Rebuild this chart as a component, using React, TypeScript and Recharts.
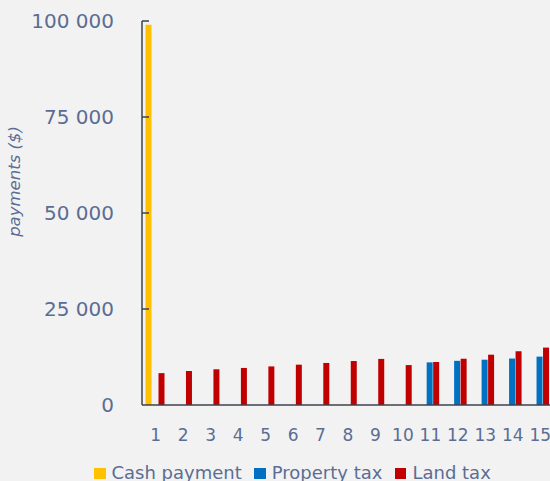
import React from 'react';
import { BarChart, Bar, XAxis, YAxis, Legend, Label } from 'recharts';

const years = ['1', '2', '3', '4', '5', '6', '7', '8', '9', '10', '11', '12', '13', '14', '15'];
const cashPayment = [99000, null, null, null, null, null, null, null, null, null, null, null, null, null, null];
const propertyTax = [null, null, null, null, null, null, null, null, null, null, 11100, 11500, 11800, 12100, 12600];
const landTax = [8300, 8850, 9300, 9650, 10050, 10500, 10950, 11450, 12000, 10400, 11200, 12050, 13100, 14000, 14950];
const yTicks = [0, 25000, 50000, 75000, 100000];

const seriesInfo = [
  { key: 'cash', name: 'Cash payment', color: '#FFC000' },
  { key: 'property', name: 'Property tax', color: '#0070C0' },
  { key: 'land', name: 'Land tax', color: '#C00000' },
];

const data = years.map((year, i) => ({
  year,
  cash: cashPayment[i],
  property: propertyTax[i],
  land: landTax[i],
}));

const textColor = '#5b6d92';
const axisColor = '#3d424c';
const font = '"DejaVu Sans", sans-serif';

const formatNumber = (v: number) => String(v).replace(/\B(?=(\d{3})+(?!\d))/g, ' ');

const YTick = (props: any) => {
  const { x, y, payload } = props;
  return (
    <g>
      <text x={x} y={y} dy={7} textAnchor="end" fill={textColor} fontSize={20} fontFamily={font}>
        {formatNumber(payload.value)}
      </text>
      {payload.value !== 0 && (
        <line x1={x + 28} x2={x + 35} y1={y} y2={y} stroke={axisColor} strokeWidth={1.5} />
      )}
    </g>
  );
};

const renderLegend = () => (
  <div style={{ display: 'flex', paddingLeft: 94, paddingTop: 9, fontFamily: font, fontSize: 18, lineHeight: '21px', color: textColor }}>
    {seriesInfo.map((s) => (
      <div key={s.key} style={{ display: 'flex', alignItems: 'flex-start', marginRight: 12.5 }}>
        <span style={{ width: 11.5, height: 11.5, background: s.color, marginTop: 5.5, marginRight: 6 }} />
        <span>{s.name}</span>
      </div>
    ))}
  </div>
);

export default function App() {
  return (
    <div style={{ position: 'absolute', left: 0, top: 0, width: 550, height: 481, overflow: 'hidden', background: '#f2f2f2' }}>
      <BarChart
        width={556}
        height={481}
        data={data}
        margin={{ top: 21, right: 2, left: 0, bottom: 0 }}
        barCategoryGap={3.5}
        barGap={0.5}
      >
        <XAxis
          dataKey="year"
          tickLine={false}
          tickSize={0}
          tickMargin={24}
          height={48}
          interval={0}
          stroke={axisColor}
          strokeWidth={1.5}
          tick={{ fill: textColor, fontSize: 17, fontFamily: font }}
        />
        <YAxis
          width={142}
          domain={[0, 100000]}
          ticks={yTicks}
          tickLine={false}
          tickSize={0}
          tickMargin={28}
          stroke={axisColor}
          strokeWidth={1.5}
          tick={<YTick />}
        >
          <Label
            content={() => (
              <text
                x={20}
                y={181.5}
                transform="rotate(-90, 20, 181.5)"
                textAnchor="middle"
                fill={textColor}
                fontSize={16.5}
                fontStyle="italic"
                fontFamily={font}
              >
                payments ($)
              </text>
            )}
          />
        </YAxis>
        <Legend verticalAlign="bottom" height={28} content={renderLegend} />
        {seriesInfo.map((s) => (
          <Bar key={s.key} dataKey={s.key} name={s.name} fill={s.color} isAnimationActive={false} />
        ))}
      </BarChart>
    </div>
  );
}
